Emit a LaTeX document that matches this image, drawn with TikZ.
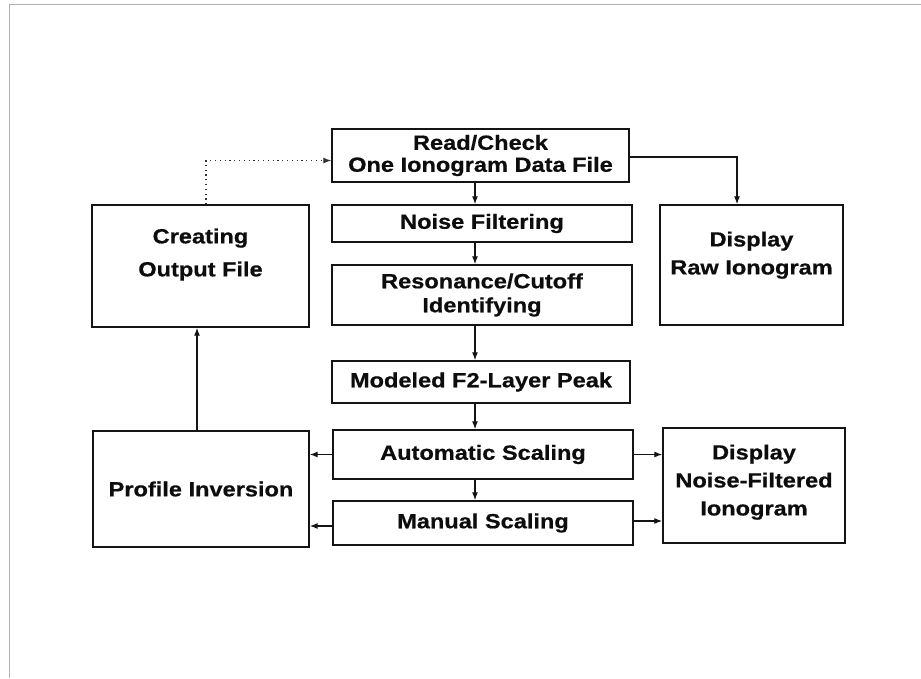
\documentclass[tikz,border=0pt]{standalone}
\usepackage{fontspec}
\newfontfamily\diafont{Liberation Sans}[FakeStretch=1.15, BoldFeatures={FakeBold=0.6}]
\usetikzlibrary{arrows.meta,calc}
\begin{document}
\begin{tikzpicture}[x=1pt,y=-1pt,
  box/.style={draw=black!92, line width=1.4pt, inner sep=0pt, align=center,
    font=\diafont\bfseries\fontsize{20.5}{22}\selectfont, text=black!95},
  arr/.style={draw=black!92, line width=1.2pt, -{Latex[length=8pt,width=6pt]}},
  dotarr/.style={draw=black!80, line width=1.1pt, dash pattern=on 1.2pt off 3.6pt,
    -{Latex[length=8pt,width=6pt]}},
  frameline/.style={draw=black!30, line width=1pt}
]
\path[use as bounding box] (0,0) rectangle (921,678);
\fill[white] (0,0) rectangle (921,678);
\draw[frameline] (9,678) -- (9,4) -- (921,4);

% central column
\node[box, minimum width=297pt, minimum height=53pt] (read) at (480.5,155.5)
  {Read/Check\\One Ionogram Data File};
\node[box, minimum width=300pt, minimum height=37pt] (noise) at (482,223.5)
  {Noise Filtering};
\node[box, minimum width=300pt, minimum height=60pt] (reso) at (482,295)
  {Resonance/Cutoff\\[2pt]Identifying};
\node[box, minimum width=298pt, minimum height=42pt] (model) at (481,382)
  {Modeled F2-Layer Peak};
\node[box, minimum width=300pt, minimum height=49pt] (auto) at (483,454.5)
  {Automatic Scaling};
\node[box, minimum width=300pt, minimum height=44pt] (manual) at (483,523)
  {Manual Scaling};

% left column
\node[box, minimum width=217pt, minimum height=122pt, text height=25pt] (create) at (200.5,266)
  {Creating\\[11pt]Output File};
\node[box, minimum width=216pt, minimum height=116pt] (profile) at (201,489)
  {Profile Inversion};

% right column
\node[box, minimum width=183pt, minimum height=120pt, text depth=24pt] (raw) at (751.5,265)
  {Display\\[6pt]Raw Ionogram};
\node[box, minimum width=182pt, minimum height=115pt, text depth=11pt] (dnf) at (754,485.5)
  {Display\\[6pt]Noise-Filtered\\[6pt]Ionogram};

% connectors
\coordinate (cx) at (475,0);
\draw[arr] (read.south -| cx) -- (noise.north -| cx);
\draw[arr] (noise.south -| cx) -- (reso.north -| cx);
\draw[arr] (reso.south -| cx) -- (model.north -| cx);
\draw[arr] (model.south -| cx) -- (auto.north -| cx);
\draw[arr] (auto.south -| cx) -- (manual.north -| cx);

\draw[arr] ([yshift=-1.5pt]read.east) -| ([xshift=-14.5pt]raw.north);
\draw[dotarr] ([xshift=5.5pt]create.north) |- ([yshift=-5pt]read.west);
\draw[arr] ([xshift=-4pt]profile.north) -- ([xshift=-4pt]profile.north |- create.south);

\draw[arr] (auto.west) -- (auto.west -| profile.east);
\draw[arr] ([yshift=-3pt]manual.west) -- ([yshift=-3pt]manual.west -| profile.east);
\draw[arr] (auto.east) -- (auto.east -| dnf.west);
\draw[arr] ([yshift=2pt]manual.east) -- ([yshift=2pt]manual.east -| dnf.west);
\end{tikzpicture}
\end{document}
